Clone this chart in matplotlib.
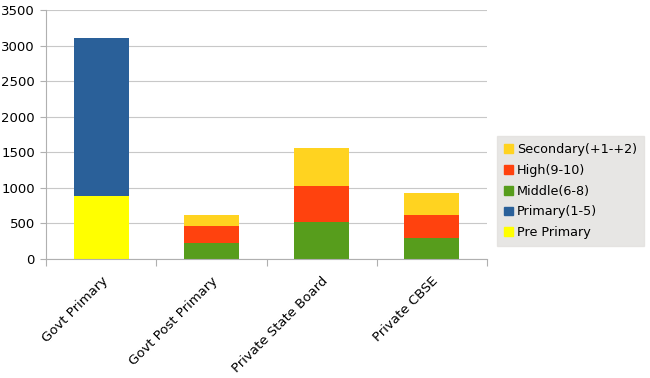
import numpy as np
import matplotlib.pyplot as plt
from matplotlib.patches import Patch

categories = ["Govt Primary", "Govt Post Primary", "Private State Board", "Private CBSE"]
pre_primary = [890, 0, 0, 0]
primary = [2220, 0, 0, 0]
middle = [0, 230, 515, 300]
high = [0, 240, 515, 315]
secondary = [0, 145, 530, 315]

series = [
    ("Pre Primary", pre_primary, "#ffff00"),
    ("Primary(1-5)", primary, "#2a6099"),
    ("Middle(6-8)", middle, "#579d1c"),
    ("High(9-10)", high, "#ff420e"),
    ("Secondary(+1-+2)", secondary, "#ffd320"),
]

plt.rcParams['font.family'] = 'DejaVu Sans'
fig = plt.figure(figsize=(6.5, 3.78), dpi=100)
ax = fig.add_axes([0.0708, 0.315, 0.6784, 0.6585])

x = np.arange(len(categories))
bottom = np.zeros(len(categories))
for name, vals, col in series:
    ax.bar(x, vals, 0.5, bottom=bottom, color=col, label=name, zorder=2)
    bottom += np.array(vals)

ax.set_xlim(-0.5, len(categories) - 0.5)
ax.set_ylim(0, 3500)
ax.set_yticks(np.arange(0, 3501, 500))
ax.yaxis.grid(True, color="#c8c8c8", linewidth=0.8, zorder=0)

# тики на границах категорий, подписи по центрам
ax.set_xticks(np.arange(-0.5, len(categories), 1.0))
ax.set_xticklabels([])
ax.set_xticks(x, minor=True)
ax.set_xticklabels(categories, minor=True, rotation=45, ha='right',
                   rotation_mode='anchor', fontsize=9.5)
ax.tick_params(axis='x', which='minor', length=0, pad=11)
ax.tick_params(axis='x', which='major', length=5, color="#b0b0b0")
ax.tick_params(axis='y', length=4, color="#b0b0b0", labelsize=9.5, pad=4)

for s in ['top', 'right']:
    ax.spines[s].set_visible(False)
ax.spines['left'].set_color("#b0b0b0")
ax.spines['bottom'].set_color("#b0b0b0")

handles = [Patch(color=col, label=name) for name, _, col in series][::-1]
leg = fig.legend(handles=handles, loc='upper left', bbox_to_anchor=(0.755, 0.658),
                 fontsize=9.2, frameon=True, fancybox=False, handlelength=0.7,
                 handleheight=0.7, handletextpad=0.3, labelspacing=0.62,
                 borderpad=0.55)
leg.get_frame().set_facecolor("#e2e0de")
leg.get_frame().set_edgecolor("#e2e0de")

fig.savefig("out.png", dpi=100)
